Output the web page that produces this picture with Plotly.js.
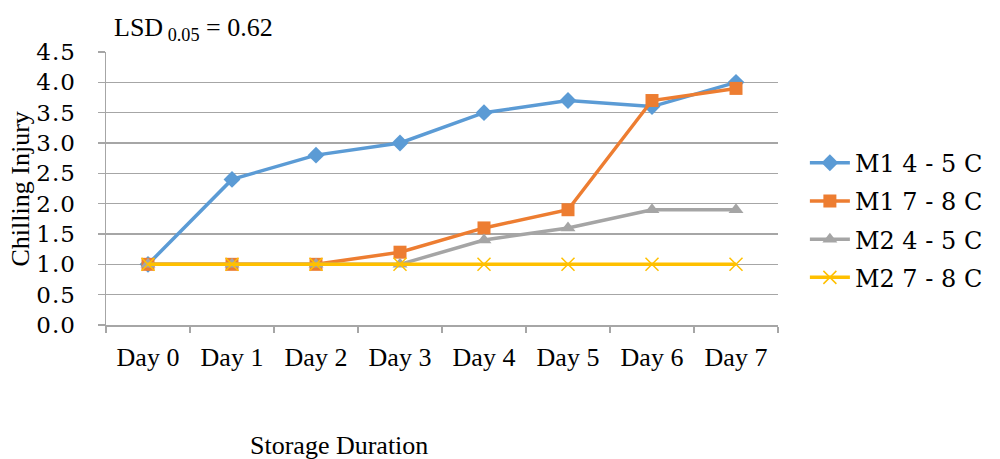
<!DOCTYPE html>
<html>
<head>
<meta charset="utf-8">
<script src="https://cdn.plot.ly/plotly-3.0.1.min.js"></script>
<style>
  html, body { margin: 0; padding: 0; background: #fff; }
  #chart { width: 1000px; height: 459px; }
  /* slightly opened spacing for the value scale */
  #chart .ytick text { letter-spacing: 1px; }
</style>
</head>
<body>
<div id="chart"></div>
<script>
// Storage duration categories
const days = ["Day 0", "Day 1", "Day 2", "Day 3", "Day 4", "Day 5", "Day 6", "Day 7"];

// Chilling injury scores per treatment
const m1_45 = [1.0, 2.4, 2.8, 3.0, 3.5, 3.7, 3.6, 4.0];
const m1_78 = [1.0, 1.0, 1.0, 1.2, 1.6, 1.9, 3.7, 3.9];
const m2_45 = [1.0, 1.0, 1.0, 1.0, 1.4, 1.6, 1.9, 1.9];
const m2_78 = [1.0, 1.0, 1.0, 1.0, 1.0, 1.0, 1.0, 1.0];

const seriesNames = ["M1 4 - 5 C", "M1 7 - 8 C", "M2 4 - 5 C", "M2 7 - 8 C"];
const yTicks = [0, 0.5, 1, 1.5, 2, 2.5, 3, 3.5, 4, 4.5];
const yTickText = ["0.0", "0.5", "1.0", "1.5", "2.0", "2.5", "3.0", "3.5", "4.0", "4.5"];

const serif = "Liberation Serif, Times New Roman, serif";
const wide = "DejaVu Serif, serif";
const grid = "#a6a6a6";

function series(y, name, color, symbol, size, group) {
  return {
    type: "scatter", mode: "lines+markers", x: days, y: y, name: name,
    legendgroup: group,
    line: { color: color, width: 3.5 },
    marker: { color: color, symbol: symbol, size: size,
              line: { color: color, width: symbol === "x-thin" ? 1.5 : 0 } },
    cliponaxis: false
  };
}

const data = [
  series(m1_45, seriesNames[0], "#5b9bd5", "diamond", 13, "a"),
  series(m1_78, seriesNames[1], "#ed7d31", "square", 13, "b"),
  series(m2_45, seriesNames[2], "#a5a5a5", "triangle-up", 13, "c"),
  series(m2_78, seriesNames[3], "#ffc000", "x-thin", 13, "d")
];

const layout = {
  width: 1000, height: 459,
  margin: { l: 106, r: 222, t: 51.5, b: 134 },
  paper_bgcolor: "#fff", plot_bgcolor: "#fff",
  showlegend: true,
  legend: {
    x: 1.040, xanchor: "left", y: 0.384, yanchor: "middle",
    font: { family: wide, size: 24, color: "#000" },
    tracegroupgap: 4, itemwidth: 40,
    bgcolor: "rgba(0,0,0,0)"
  },
  xaxis: {
    type: "category", range: [-0.5, 7.5],
    showline: true, linecolor: grid, linewidth: 1.5,
    ticks: "outside", tickson: "boundaries", ticklen: 6, tickcolor: grid, tickwidth: 1.5,
    showgrid: false, zeroline: false,
    tickfont: { family: serif, size: 26, color: "#000" },
    ticklabelstandoff: 8, fixedrange: true
  },
  yaxis: {
    range: [0, 4.5], tickvals: yTicks, ticktext: yTickText,
    showline: true, linecolor: grid, linewidth: 1.5,
    ticks: "outside", ticklen: 7, tickcolor: grid, tickwidth: 1.5,
    showgrid: true, gridcolor: grid, gridwidth: 1.5, zeroline: false,
    tickfont: { family: wide, size: 23, color: "#000" },
    ticklabelstandoff: 17, fixedrange: true
  },
  annotations: [
    { xref: "paper", yref: "paper", x: -0.1265, y: 0.5, xanchor: "center", yanchor: "middle",
      text: "Chilling Injury", textangle: -90, showarrow: false,
      font: { family: serif, size: 26, color: "#000" } },
    { xref: "paper", yref: "paper", x: 0.3467, y: -0.4424, xanchor: "center", yanchor: "middle",
      text: "Storage Duration", showarrow: false,
      font: { family: serif, size: 26, color: "#000" } },
    { xref: "paper", yref: "paper", x: 0.009, y: 1.086, xanchor: "left", yanchor: "middle",
      text: "LSD<sub> 0.05</sub> = 0.62", showarrow: false,
      font: { family: serif, size: 26, color: "#000" } }
  ]
};

Plotly.newPlot("chart", data, layout, { displayModeBar: false, staticPlot: true });
</script>
</body>
</html>
